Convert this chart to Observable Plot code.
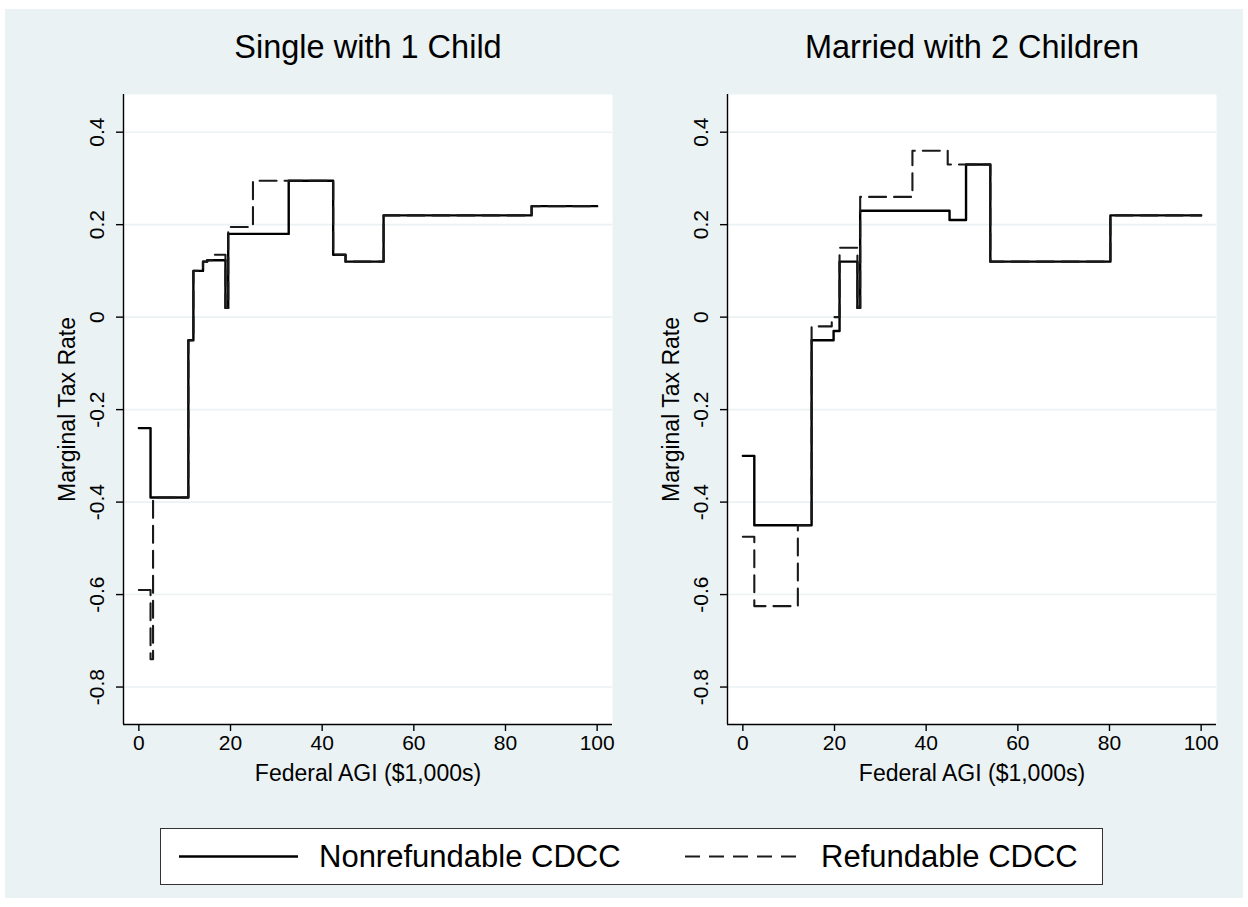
<!DOCTYPE html>
<html><head><meta charset="utf-8">
<script src="https://cdn.jsdelivr.net/npm/d3@7"></script>
<script src="https://cdn.jsdelivr.net/npm/@observablehq/plot@0.6"></script>
<style>
body{margin:0;background:#fff;font-family:"Liberation Sans",Arial,sans-serif;}
#bg{position:absolute;left:5px;top:9px;width:1238px;height:889px;background:#EAF2F3;}
.panel{position:absolute;top:0;}
#legend{position:absolute;left:160px;top:828px;width:943px;height:57px;background:#fff;border:1px solid #333;box-sizing:border-box;}
</style></head><body>
<div id="bg"></div>
<div id="p1" class="panel" style="left:0px"></div>
<div id="p2" class="panel" style="left:604px"></div>
<div id="legend"></div>
<script>
// ---- Data (Federal AGI in $1,000s; marginal tax rate) ----
const panelTitles = ["Single with 1 Child", "Married with 2 Children"];
const seriesNames = ["Nonrefundable CDCC", "Refundable CDCC"];
const xTicks = [0, 20, 40, 60, 80, 100];
const yTicks = [-0.8, -0.6, -0.4, -0.2, 0, 0.2, 0.4];

// Single with 1 Child
const singleNonrefAGI  = [0, 2.55, 10.8, 11.9, 14.0, 14.9, 18.9, 19.5, 32.7, 42.4, 45.1, 53.4, 85.7, 100];
const singleNonrefRate = [-0.24, -0.39, -0.05, 0.10, 0.12, 0.123, 0.02, 0.18, 0.295, 0.135, 0.12, 0.22, 0.24, 0.24];
const singleRefAGI     = [0, 2.55, 3.1, 10.8, 11.9, 14.0, 14.9, 16.1, 18.9, 19.5, 24.9, 42.4, 45.1, 53.4, 85.7, 100];
const singleRefRate    = [-0.59, -0.74, -0.39, -0.05, 0.10, 0.12, 0.123, 0.135, 0.02, 0.195, 0.295, 0.135, 0.12, 0.22, 0.24, 0.24];

// Married with 2 Children
const marriedNonrefAGI  = [0, 2.5, 15.0, 19.8, 21.1, 25.0, 25.6, 45.1, 48.7, 54.0, 80.2, 100];
const marriedNonrefRate = [-0.30, -0.45, -0.05, -0.03, 0.12, 0.02, 0.23, 0.21, 0.33, 0.12, 0.22, 0.22];
const marriedRefAGI     = [0, 2.5, 12.0, 15.0, 19.4, 21.1, 25.0, 25.6, 37.0, 44.7, 54.0, 80.2, 100];
const marriedRefRate    = [-0.475, -0.625, -0.45, -0.02, 0.0, 0.15, 0.02, 0.26, 0.36, 0.33, 0.12, 0.22, 0.22];

const FONT = '"Liberation Sans", Arial, Helvetica, sans-serif';
const toRows = (xs, ys) => xs.map((x, i) => ({x, y: ys[i]}));

function panel(title, solid, dashed) {
  return Plot.plot({
    width: 624, height: 800,
    marginLeft: 123, marginRight: 12, marginTop: 94, marginBottom: 76,
    x: {domain: [-3.35, 103.35]},
    y: {domain: [-0.881, 0.4815]},
    style: {background: "transparent", fontFamily: FONT, fontSize: "21px", color: "#000", overflow: "visible"},
    marks: [
      Plot.frame({fill: "white", stroke: null}),
      Plot.gridY(yTicks, {stroke: "#EAF2F3", strokeOpacity: 1, strokeWidth: 1.6}),
      Plot.line(solid, {x: "x", y: "y", curve: "step-after", stroke: "#000", strokeWidth: 2.4}),
      Plot.line(dashed, {x: "x", y: "y", curve: "step-after", stroke: "#1a1a1a", strokeWidth: 2.1, strokeDasharray: "17,8"}),
      Plot.ruleX([-3.35], {stroke: "#000", strokeWidth: 1.4}),
      Plot.ruleY([-0.881], {stroke: "#000", strokeWidth: 1.4}),
      Plot.axisY(yTicks, {tickSize: 7, tickFormat: () => "", label: null, stroke: "#000", strokeWidth: 1.4}),
      Plot.text(yTicks, {y: d => d, frameAnchor: "left", dx: -26, rotate: -90, textAnchor: "middle", lineAnchor: "middle", text: d => String(d), fontSize: 21}),
      Plot.axisX(xTicks, {tickSize: 7, tickPadding: 4, label: null, fontSize: 21, stroke: "#000", strokeWidth: 1.4}),
      Plot.text(["Federal AGI ($1,000s)"], {frameAnchor: "bottom", dy: 49, lineAnchor: "middle", textAnchor: "middle", fontSize: 23}),
      Plot.text(["Marginal Tax Rate"], {frameAnchor: "left", dx: -56, rotate: -90, textAnchor: "middle", lineAnchor: "middle", fontSize: 23}),
      Plot.text([title], {frameAnchor: "top", dy: -47, lineAnchor: "middle", textAnchor: "middle", fontSize: 32.5})
    ]
  });
}

document.getElementById("p1").appendChild(panel(panelTitles[0],
  toRows(singleNonrefAGI, singleNonrefRate), toRows(singleRefAGI, singleRefRate)));
document.getElementById("p2").appendChild(panel(panelTitles[1],
  toRows(marriedNonrefAGI, marriedNonrefRate), toRows(marriedRefAGI, marriedRefRate)));

// Legend
const lg = d3.select("#legend").append("svg").attr("width", 941).attr("height", 55)
  .style("font-family", FONT).style("display", "block");
lg.append("line").attr("x1", 18).attr("x2", 137).attr("y1", 27.5).attr("y2", 27.5)
  .attr("stroke", "#000").attr("stroke-width", 2.4);
lg.append("text").attr("x", 158).attr("y", 27.5).attr("dy", "0.35em").attr("font-size", 31).text(seriesNames[0]);
lg.append("line").attr("x1", 524).attr("x2", 638).attr("y1", 27.5).attr("y2", 27.5)
  .attr("stroke", "#1a1a1a").attr("stroke-width", 2.1).attr("stroke-dasharray", "15,9");
lg.append("text").attr("x", 660).attr("y", 27.5).attr("dy", "0.35em").attr("font-size", 31).text(seriesNames[1]);
</script>
</body></html>
